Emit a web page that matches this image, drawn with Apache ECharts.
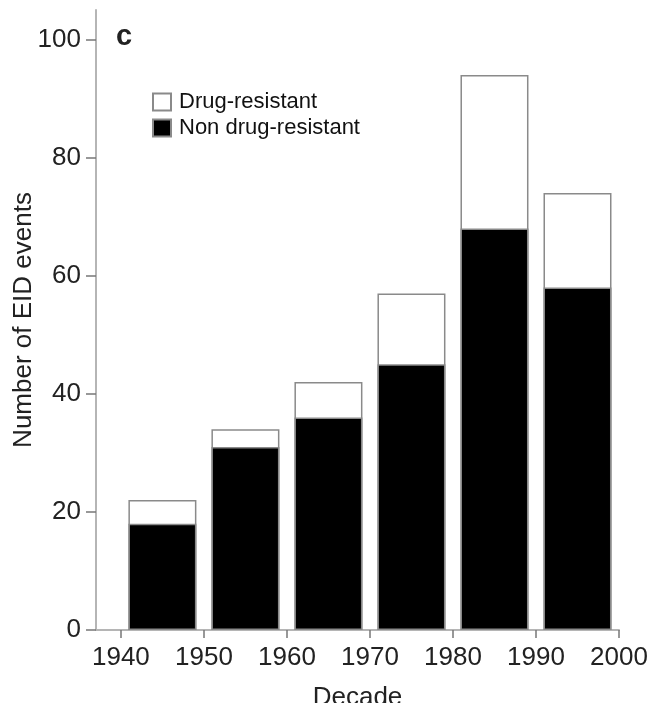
<!DOCTYPE html>
<html>
<head>
<meta charset="utf-8">
<script src="https://cdn.jsdelivr.net/npm/echarts@6/dist/echarts.min.js"></script>
<style>
html,body{margin:0;padding:0;background:#fff;}
#chart{width:653px;height:703px;}
</style>
</head>
<body>
<div id="chart"></div>
<script>
// Data
var decadeCenters = [1945, 1955, 1965, 1975, 1985, 1995];
var nonDrugResistant = [18, 31, 36, 45, 68, 58];
var drugResistant = [4, 3, 6, 12, 26, 16];
var xTicks = [1940, 1950, 1960, 1970, 1980, 1990, 2000];
var yTicks = [0, 20, 40, 60, 80, 100];

var FONT = 'Liberation Sans, Arial, Helvetica, sans-serif';

var chart = echarts.init(document.getElementById('chart'), null, {renderer: 'canvas'});

// Total bar height = non drug-resistant + drug-resistant; the black bar is drawn over its lower part.
var totals = decadeCenters.map(function (d, i) { return [d, nonDrugResistant[i] + drugResistant[i]]; });
var nonDrugPairs = decadeCenters.map(function (d, i) { return [d, nonDrugResistant[i]]; });

var option = {
  backgroundColor: '#ffffff',
  animation: false,
  textStyle: {fontFamily: FONT},
  title: {
    text: 'c',
    left: 116,
    top: 22,
    padding: 0,
    textStyle: {fontFamily: FONT, fontSize: 29, fontWeight: 'bold', color: '#222'}
  },
  legend: {
    orient: 'vertical',
    left: 152,
    top: 91,
    padding: 0,
    icon: 'rect',
    itemWidth: 18,
    itemHeight: 17,
    itemGap: 4,
    data: ['Drug-resistant', 'Non drug-resistant'],
    textStyle: {fontFamily: FONT, fontSize: 22, color: '#111', padding: [0, 0, 0, 3]}
  },
  grid: {left: 96, right: 34, top: 10, bottom: 73, containLabel: false, outerBoundsMode: 'none'},
  xAxis: {
    type: 'value',
    min: 1937,
    max: 2000,
    name: 'Decade',
    nameLocation: 'middle',
    nameGap: 55,
    nameMoveOverlap: false,
    nameTextStyle: {fontFamily: FONT, fontSize: 26, color: '#222'},
    splitLine: {show: false},
    axisLine: {show: true, lineStyle: {color: '#b5b5b5', width: 2}},
    axisTick: {show: true, customValues: xTicks, length: 8, lineStyle: {color: '#777', width: 1.5}},
    axisLabel: {customValues: xTicks, fontFamily: FONT, fontSize: 26, color: '#222', margin: 15,
      formatter: function (v) { return String(v); }}
  },
  yAxis: {
    type: 'value',
    min: 0,
    max: 105,
    name: 'Number of EID events',
    nameLocation: 'middle',
    nameGap: 59,
    nameRotate: 90,
    nameMoveOverlap: false,
    nameTextStyle: {fontFamily: FONT, fontSize: 26, color: '#222'},
    splitLine: {show: false},
    axisLine: {show: true, lineStyle: {color: '#b5b5b5', width: 2}},
    axisTick: {show: true, customValues: yTicks, length: 10, lineStyle: {color: '#777', width: 1.5}},
    axisLabel: {customValues: yTicks, fontFamily: FONT, fontSize: 26, color: '#222', margin: 15}
  },
  series: [
    {
      name: 'Drug-resistant',
      type: 'bar',
      barWidth: 68,
      barGap: '-100%',
      z: 2,
      data: totals,
      itemStyle: {color: '#ffffff', borderColor: '#8a8a8a', borderWidth: 1.5}
    },
    {
      name: 'Non drug-resistant',
      type: 'bar',
      barWidth: 68,
      barGap: '-100%',
      z: 3,
      data: nonDrugPairs,
      itemStyle: {color: '#000000', borderColor: '#8a8a8a', borderWidth: 1.5}
    }
  ]
};
chart.setOption(option);
</script>
</body>
</html>
